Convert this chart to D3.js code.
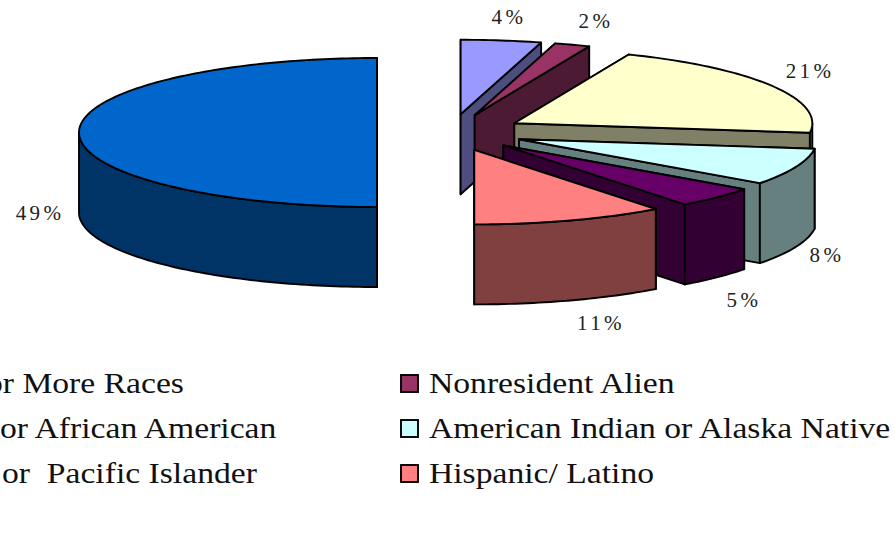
<!DOCTYPE html>
<html><head><meta charset="utf-8">
<script src="https://cdn.jsdelivr.net/npm/d3@7/dist/d3.min.js"></script>
<style>html,body{margin:0;padding:0;background:#fff;overflow:hidden}svg{display:block}
.pct{font-family:"Liberation Serif",serif;font-size:21px;letter-spacing:3.4px;fill:#222}
.leg{font-family:"Liberation Serif",serif;font-size:29px;fill:#111;white-space:pre}</style>
</head><body><svg id="c" width="895" height="535"></svg>
<script>
// Data (pie draw order, clockwise from 12 o'clock)
const categories = ["or More Races","Nonresident Alien","or African American","American Indian or Alaska Native","or  Pacific Islander","Hispanic/ Latino"];
const shares = [4.3,1.9,20.5,7.9,4.5,10.3,49.4];
const pctLabels = ["4%","2%","21%","8%","5%","11%","49%"];
const colors = ["#9999FF","#993366","#FFFFCC","#CCFFFF","#660066","#FF8080","#0066CC"];
const legendRows = [0,1,2];

// Layout
const W=895,H=535;
const cx=450.6,cy=132.5,rx=298,ry=74.5,depth=80,explode=73.6;
const labelPos=[[509,24],[596,28],[810,78],[827,262],[744,307],[601,330],[40,220]];
const leftX=[-14,0,2];
const legendStretch=1.16;
const svg=d3.select("#c");
const xS=d3.scaleLinear().domain([-1,1]).range([-rx,rx]);
const yS=d3.scaleLinear().domain([-1,1]).range([ry,-ry]);
const slices=d3.pie().sort(null).value(d=>d)(shares);
const line=d3.line();
const half=c=>{const r=d3.rgb(c);return d3.rgb(r.r*.5,r.g*.5,r.b*.5).formatHex();};
const arcPts=(a0,a1,ax,ay)=>{const n=Math.max(2,Math.ceil((a1-a0)/0.02));
  return d3.range(n+1).map(i=>{const a=a0+(a1-a0)*i/n;return [ax+xS(Math.sin(a)),ay+yS(Math.cos(a))];});};
const gp=svg.append("g").attr("stroke","#000").attr("stroke-width",1.9).attr("stroke-linejoin","round");
slices.forEach((s,i)=>{
  const mid=(s.startAngle+s.endAngle)/2;
  const ax=cx+explode*Math.sin(mid), ay=cy-explode*(ry/rx)*Math.cos(mid);
  const dark=half(colors[i]);
  const g=gp.append("g");
  const cut=a=>{const p=[ax+xS(Math.sin(a)),ay+yS(Math.cos(a))];
    g.append("path").attr("fill",dark).attr("d",line([[ax,ay],p,[p[0],p[1]+depth],[ax,ay+depth]])+"Z");};
  cut(s.startAngle);cut(s.endAngle);
  const w0=Math.max(s.startAngle,Math.PI/2),w1=Math.min(s.endAngle,Math.PI*1.5);
  if(w1>w0){const t=arcPts(w0,w1,ax,ay);const b=t.slice().reverse().map(p=>[p[0],p[1]+depth]);
    g.append("path").attr("fill",dark).attr("d",line(t.concat(b))+"Z");}
  g.append("path").attr("fill",colors[i]).attr("d",line([[ax,ay]].concat(arcPts(s.startAngle,s.endAngle,ax,ay)))+"Z");
});
svg.append("g").selectAll("text").data(pctLabels).join("text").attr("class","pct")
  .attr("text-anchor","middle").attr("x",(d,i)=>labelPos[i][0]).attr("y",(d,i)=>labelPos[i][1]).text(d=>d);
const rowY=d3.scaleLinear().domain([0,2]).range([393,483]);
const lg=svg.append("g");
const legText=(x,y,t)=>lg.append("text").attr("class","leg").attr("xml:space","preserve")
  .attr("transform",`translate(${x},${y}) scale(${legendStretch},1)`).text(t);
legendRows.forEach(r=>{
  const a=r*2,b=r*2+1;
  legText(leftX[r],rowY(r),categories[a]);
  lg.append("rect").attr("x",401).attr("y",rowY(r)-18).attr("width",17).attr("height",17).attr("fill",colors[b]).attr("stroke","#000").attr("stroke-width",1.9);
  legText(429,rowY(r),categories[b]);
});
</script></body></html>
